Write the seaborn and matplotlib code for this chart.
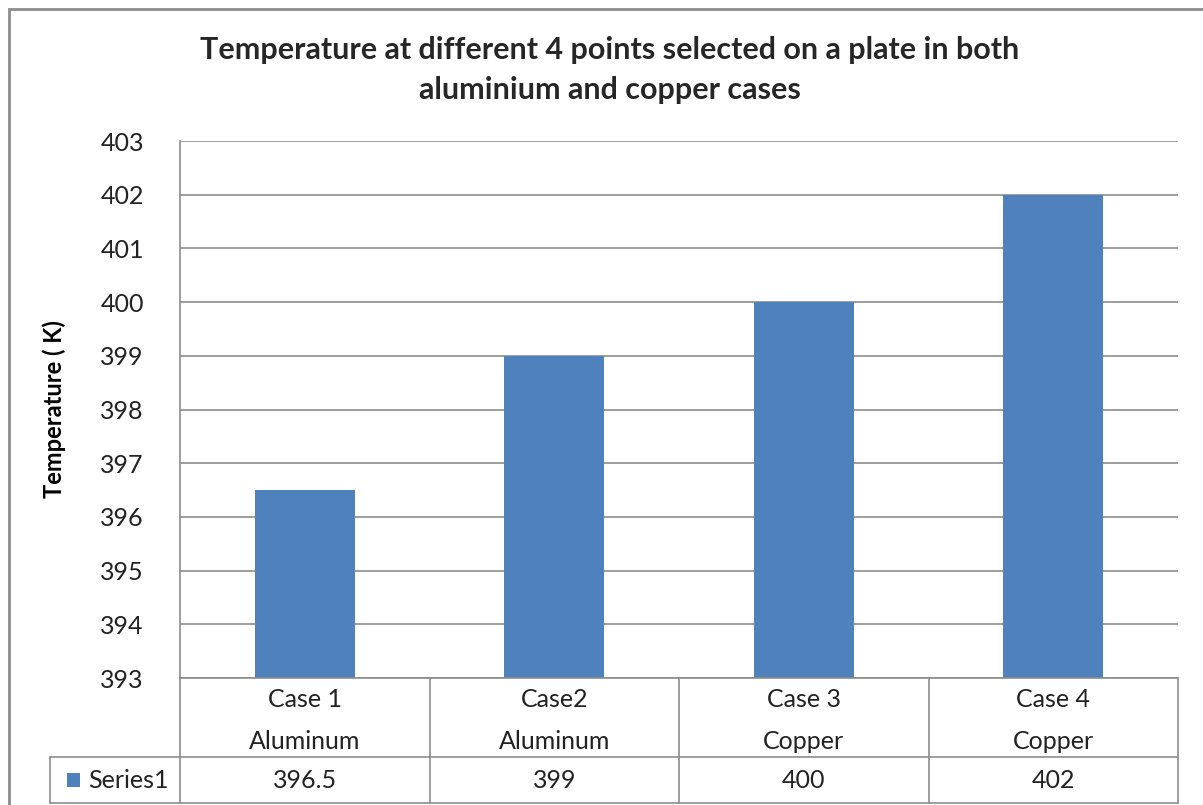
import matplotlib
matplotlib.use("Agg")
import matplotlib.pyplot as plt
import matplotlib.patches as mpatches
import matplotlib.lines as mlines
import matplotlib.transforms as mtransforms
import seaborn as sns
import pandas as pd

cases = ["Case 1", "Case2", "Case 3", "Case 4"]
materials = ["Aluminum", "Aluminum", "Copper", "Copper"]
temps = [396.5, 399, 400, 402]
value_labels = ["396.5", "399", "400", "402"]
series_name = "Series1"
title = "Temperature at different 4 points selected on a plate in both\naluminium and copper cases"
ylabel = "Temperature ( K)"
yticks = list(range(393, 404))

sns.set_theme(style="white")
plt.rcParams['font.family'] = ['Lato', 'DejaVu Sans']

W, H = 1203, 805
fig = plt.figure(figsize=(W / 100, H / 100), dpi=100)
fig.patch.set_facecolor("white")

# outer chart border (cut off at right/bottom)
fig.add_artist(mpatches.Rectangle((9 / W, -0.1), 1.2, 1 - 9 / H + 0.1,
                                  transform=fig.transFigure, fill=False,
                                  edgecolor="#8c8c8c", linewidth=2))

L, R, T, B = 180, 1178, 141, 678
ax = fig.add_axes([L / W, 1 - B / H, (R - L) / W, (B - T) / H])

df = pd.DataFrame({"case": cases, "temp": temps})
base = yticks[0]
sns.barplot(data=df, x="case", y="temp", ax=ax, color="#4F81BD", width=0.4,
            saturation=1)
for p, v in zip(ax.patches, temps):
    p.set_y(base)
    p.set_height(v - base)
    p.set_edgecolor("none")

ax.set_ylim(yticks[0], yticks[-1])
ax.set_xlim(-0.5, len(cases) - 0.5)
ax.set_yticks(yticks)
ax.set_yticklabels([str(t) for t in yticks], fontsize=18, color="#222222")
ax.tick_params(axis="y", length=0, pad=26)
ax.set_xticks([])
ax.set_xlabel("")
ax.set_ylabel(ylabel, fontsize=17, fontweight="bold", color="black")
ax.yaxis.set_label_coords(-(180 - 66) / (R - L), 0.5)
ax.yaxis.grid(True, color="#8c8c8c", linewidth=1.2)
ax.set_axisbelow(True)
for s in ["top", "right", "bottom"]:
    ax.spines[s].set_visible(False)
ax.spines["left"].set_color("#8c8c8c")
ax.spines["left"].set_linewidth(1.2)

fig.text(610 / W, 1 - 70 / H, title, ha="center", va="center", fontsize=22,
         fontweight="bold", linespacing=1.55)

# data table below the axes, x in data units, y in axes fraction
tr = mtransforms.blended_transform_factory(ax.transData, ax.transAxes)
ph = B - T
y0 = 0.0
y1 = -(757 - B) / ph
y2 = -(803 - B) / ph
xl = -0.5 - (L - 50) / (R - L) * len(cases)
lc = "#8c8c8c"
lw = 1.2
def line(xs, ys):
    ax.add_line(mlines.Line2D(xs, ys, transform=tr, color=lc, linewidth=lw, clip_on=False))

line([-0.5, len(cases) - 0.5], [y0, y0])
line([xl, len(cases) - 0.5], [y1, y1])
line([xl, len(cases) - 0.5], [y2, y2])
for i in range(len(cases) + 1):
    line([i - 0.5, i - 0.5], [y0, y2])
line([xl, xl], [y1, y2])

ya = -(699 - B) / ph
yb = -(741 - B) / ph
yc = -(780 - B) / ph
for i, (c, m, v) in enumerate(zip(cases, materials, value_labels)):
    ax.text(i, ya, c, transform=tr, ha="center", va="center", fontsize=18, color="#222222")
    ax.text(i, yb, m, transform=tr, ha="center", va="center", fontsize=18, color="#222222")
    ax.text(i, yc, v, transform=tr, ha="center", va="center", fontsize=18, color="#222222")

fig.add_artist(mpatches.Rectangle((67 / W, 1 - 787 / H), 13 / W, 14 / H,
                                  transform=fig.transFigure, facecolor="#4F81BD",
                                  edgecolor="none"))
fig.text(88 / W, 1 - 780 / H, series_name, ha="left", va="center", fontsize=18,
         color="#222222")

fig.savefig("out.png", dpi=100, facecolor="white")
